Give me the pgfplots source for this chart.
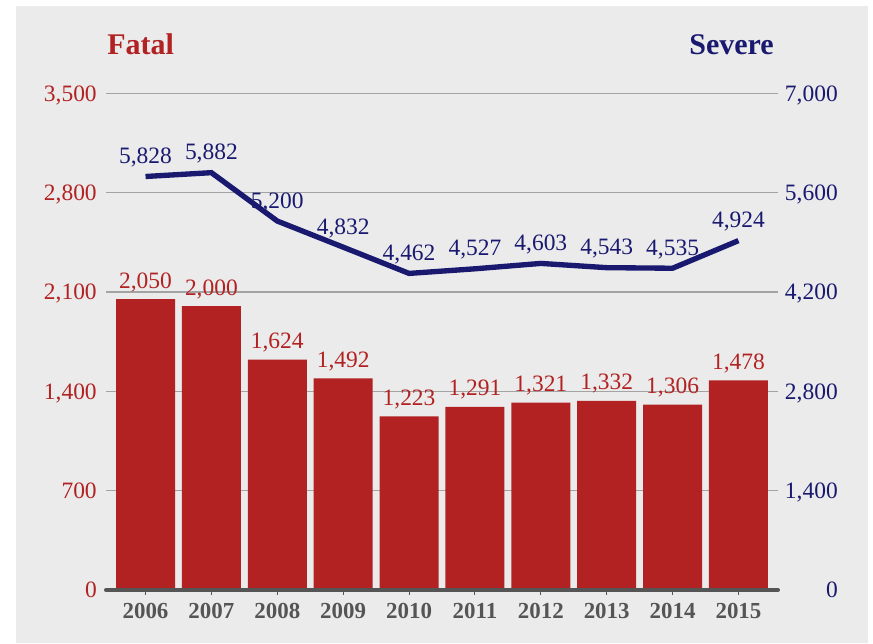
\documentclass[border=0pt]{standalone}
\usepackage{pgfplots}
\pgfplotsset{compat=1.18}
\usepackage{fontspec}
\setmainfont{Liberation Serif}
\definecolor{bg}{HTML}{EBEBEB}
\definecolor{fatal}{HTML}{B22222}
\definecolor{severe}{HTML}{191970}
\definecolor{axgray}{HTML}{555555}
\definecolor{gridgray}{HTML}{A3A3A3}
\pgfplotsset{/pgf/number format/.cd, 1000 sep={,}, assume math mode=true}
\newcommand{\lblfont}{\fontsize{17.6}{19}\selectfont}
\begin{document}
\begin{tikzpicture}[x=0.75pt,y=0.75pt]
\path[use as bounding box] (0,0) rectangle (873,643);
\fill[white] (0,0) rectangle (873,643);
\fill[bg] (16,0) rectangle (868,637);
\node[anchor=base west, font=\bfseries\fontsize{22.5}{24}\selectfont, text=fatal, inner sep=0pt] at (107,588) {Fatal};
\node[anchor=base east, font=\bfseries\fontsize{22.5}{24}\selectfont, text=severe, inner sep=0pt] at (774,588) {Severe};
\begin{axis}[
  at={(79.5pt,39.75pt)}, anchor=south west,
  width=504pt, height=372.5pt, scale only axis,
  xmin=-0.6, xmax=9.6, ymin=0, ymax=3500,
  axis y line*=left, axis x line*=bottom,
  axis line style={draw=none},
  xtick=\empty,
  ytick={0,700,1400,2100,2800,3500},
  scaled y ticks=false,
  ymajorgrids, grid style={gridgray, line width=1.1pt},
  ytick style={draw=none},
  yticklabel style={font=\lblfont, text=fatal, anchor=base east, inner sep=0pt, xshift=-6.75pt, yshift=-5.9pt},
  ybar, bar width=44.25pt,
  nodes near coords,
  nodes near coords style={font=\lblfont, text=fatal, anchor=base, inner sep=0pt, yshift=8.25pt},
]
\addplot[fill=fatal, draw=none] coordinates {
(0,2050) (1,2000) (2,1624) (3,1492) (4,1223) (5,1291) (6,1321) (7,1332) (8,1306) (9,1478)};
\end{axis}
\begin{axis}[
  at={(79.5pt,39.75pt)}, anchor=south west,
  width=504pt, height=372.5pt, scale only axis,
  xmin=-0.6, xmax=9.6, ymin=0, ymax=7000,
  axis y line*=right, axis x line*=bottom,
  y axis line style={draw=none},
  x axis line style={draw=axgray, line width=3pt, line cap=round, -},
  xtick={0,...,9},
  xticklabels={2006,2007,2008,2009,2010,2011,2012,2013,2014,2015},
  xtick style={draw=axgray, line width=0.8pt},
  xtick align=outside, major tick length=3.75pt,
  xticklabel style={font=\bfseries\fontsize{17.2}{19}\selectfont, text=axgray, anchor=base, inner sep=0pt, yshift=-17.75pt},
  ytick={0,1400,2800,4200,5600,7000},
  scaled y ticks=false,
  ytick style={draw=none},
  yticklabel style={font=\lblfont, text=severe, anchor=base east, inner sep=0pt, xshift=45pt, yshift=-5.9pt},
  nodes near coords,
  nodes near coords style={font=\lblfont, text=severe, anchor=base, inner sep=0pt, yshift=9.75pt},
]
\addplot[severe, line width=4pt, mark=none] coordinates {
(0,5828) (1,5882) (2,5200) (3,4832) (4,4462) (5,4527) (6,4603) (7,4543) (8,4535) (9,4924)};
\end{axis}
\end{tikzpicture}
\end{document}
